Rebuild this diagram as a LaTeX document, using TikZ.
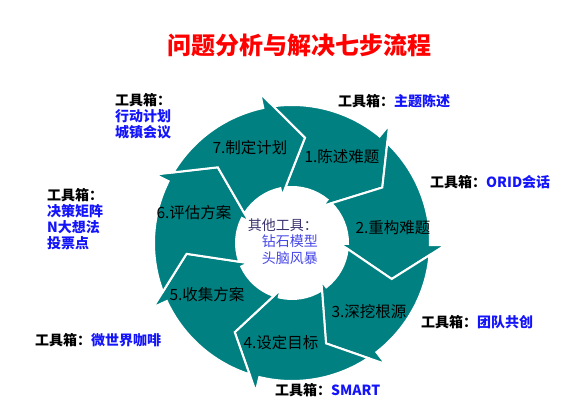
\documentclass[tikz,border=0pt]{standalone}
\usepackage{fontspec}
\setmainfont{Noto Sans CJK SC}
\usepackage{tikz}

\definecolor{ringteal}{RGB}{0,128,128}
\definecolor{titlered}{RGB}{255,0,0}
\definecolor{toolblue}{RGB}{20,20,250}
\definecolor{centerdark}{RGB}{60,50,110}
\definecolor{centerblue}{RGB}{70,70,230}

\newcommand{\ringarrow}[1]{%
	\draw[stepshape]({#1+66.2}:138pt) arc[start angle={#1+66.2}, end angle={#1+19}, radius=138pt]
		--({#1+19}:153pt)--(#1:106pt)--({#1+19}:48pt)--({#1+19}:56pt)
		arc[start angle={#1+19}, end angle={#1+65.1}, radius=56pt]
		--({#1+51.43}:106pt)--cycle;}

\begin{document}
\begin{tikzpicture}[x=1pt,y=1pt,
			stepshape/.style={
				fill=ringteal,
				draw=white,
				line width=2pt
			},
			steplabel/.style={
				inner sep=0pt,
				font=\fontsize{15.5}{18}\selectfont
			},
			toolbox/.style={
				inner sep=0pt,
				anchor=west,
				align=left,
				font=\fontsize{14}{16}\selectfont\bfseries
			}]
			
			\useasboundingbox(-292,-169) rectangle (291,243);
			
			\ringarrow{31.57}
			\ringarrow{-19.86}
			\ringarrow{-71.29}
			\ringarrow{-122.71}
			\ringarrow{-174.14}
			\ringarrow{-225.57}
			\ringarrow{83}
			
			\node(title) at (8,198)[font=\fontsize{24}{28}\selectfont\bfseries,text=titlered]{问题分析与解决七步流程};
			
			\node(step1) at (50,86)[steplabel]{1.陈述难题};
			
			\node(step2) at (101,15)[steplabel]{2.重构难题};
			
			\node(step3) at (77,-69)[steplabel]{3.深挖根源};
			
			\node(step4) at (-11,-100)[steplabel]{4.设定目标};
			
			\node(step5) at (-85,-52)[steplabel]{5.收集方案};
			
			\node(step6) at (-98,30)[steplabel]{6.评估方案};
			
			\node(step7) at (-42,95)[steplabel]{7.制定计划};
			
			\node(others) at (26,1.5)[anchor=east,align=right,inner sep=0pt,font=\fontsize{14}{16.5}\selectfont]{\textcolor{centerdark}{其他工具：}\\\textcolor{centerblue}{钻石模型}\\\textcolor{centerblue}{头脑风暴}};
			
			\node(tool1) at (46,142)[toolbox]{工具箱：\textcolor{toolblue}{主题陈述}};
			
			\node(tool2) at (138,61)[toolbox]{工具箱：\textcolor{toolblue}{ORID会话}};
			
			\node(tool3) at (129,-79)[toolbox]{工具箱：\textcolor{toolblue}{团队共创}};
			
			\node(tool4) at (-17,-147)[toolbox]{工具箱：\textcolor{toolblue}{SMART}};
			
			\node(tool5) at (-257,-97)[toolbox]{工具箱：\textcolor{toolblue}{微世界咖啡}};
			
			\node(tool6) at (-245,24)[toolbox]{工具箱：\\\textcolor{toolblue}{决策矩阵}\\\textcolor{toolblue}{N大想法}\\\textcolor{toolblue}{投票点}};
			
			\node(tool7) at (-177,126.5)[toolbox]{工具箱：\\\textcolor{toolblue}{行动计划}\\\textcolor{toolblue}{城镇会议}};
			
		\end{tikzpicture}
\end{document}
